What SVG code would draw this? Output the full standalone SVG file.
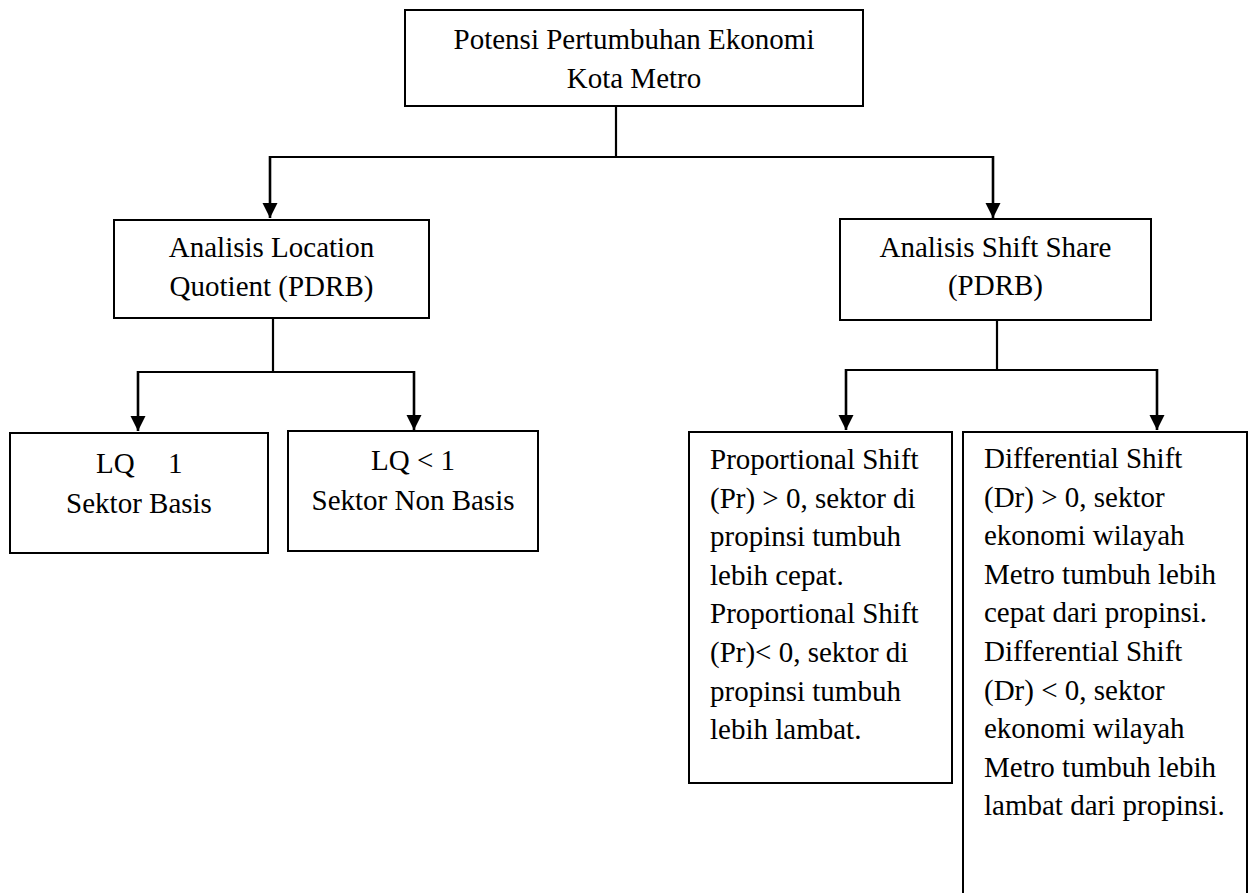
<svg xmlns="http://www.w3.org/2000/svg" width="1248" height="893" viewBox="0 0 1248 893">
<style>
.box{fill:#fff;stroke:#000;stroke-width:2}
.t{font-family:"Liberation Serif","Times New Roman",serif;font-size:29px;fill:#000}
.c{text-anchor:middle}
.ln{stroke:#000;stroke-width:2.2;fill:none}
.ar{stroke:#000;stroke-width:2.6;fill:none;marker-end:url(#ah)}
</style>
<defs>
<marker id="ah" markerUnits="userSpaceOnUse" markerWidth="16" markerHeight="16" refX="15" refY="7.5" orient="auto">
<path d="M0,0 L15,7.5 L0,15 Z" fill="#000"/>
</marker>
</defs>
<rect width="1248" height="893" fill="#fff"/>
<g id="connectors">
<line class="ln" x1="616" y1="106" x2="616" y2="157"/>
<line class="ln" x1="270" y1="157" x2="993" y2="157"/>
<line class="ar" x1="270" y1="156" x2="270" y2="218"/>
<line class="ar" x1="993" y1="156" x2="993" y2="218"/>
<line class="ln" x1="273" y1="318" x2="273" y2="372"/>
<line class="ln" x1="138" y1="372" x2="414" y2="372"/>
<line class="ar" x1="138" y1="371" x2="138" y2="431"/>
<line class="ar" x1="414" y1="371" x2="414" y2="430"/>
<line class="ln" x1="997" y1="320" x2="997" y2="370"/>
<line class="ln" x1="846" y1="370" x2="1157" y2="370"/>
<line class="ar" x1="846" y1="369" x2="846" y2="430"/>
<line class="ar" x1="1157" y1="369" x2="1157" y2="430"/>
</g>
<g id="n-top">
<rect class="box" x="405" y="10" width="458" height="96"/>
<text class="t c" x="634" y="49">Potensi Pertumbuhan Ekonomi</text>
<text class="t c" x="634" y="88">Kota Metro</text>
</g>
<g id="n-lq">
<rect class="box" x="114" y="220" width="315" height="98"/>
<text class="t c" x="271.5" y="257">Analisis Location</text>
<text class="t c" x="271.5" y="296">Quotient (PDRB)</text>
</g>
<g id="n-ss">
<rect class="box" x="840" y="219" width="311" height="101"/>
<text class="t c" x="995.5" y="257">Analisis Shift Share</text>
<text class="t c" x="995.5" y="295">(PDRB)</text>
</g>
<g id="n-basis">
<rect class="box" x="10" y="433" width="258" height="120"/>
<text class="t" x="96" y="473">LQ</text>
<text class="t" x="168" y="473">1</text>
<text class="t c" x="139" y="513">Sektor Basis</text>
</g>
<g id="n-nonbasis">
<rect class="box" x="288" y="431" width="250" height="120"/>
<text class="t c" x="413" y="470">LQ &lt; 1</text>
<text class="t c" x="413" y="510">Sektor Non Basis</text>
</g>
<g id="n-pr">
<rect class="box" x="689" y="432" width="263" height="351"/>
<text class="t" x="710" y="469">Proportional Shift<tspan x="710" dy="38.6">(Pr) &gt; 0, sektor di</tspan><tspan x="710" dy="38.6">propinsi tumbuh</tspan><tspan x="710" dy="38.6">lebih cepat.</tspan><tspan x="710" dy="38.6">Proportional Shift</tspan><tspan x="710" dy="38.6">(Pr)&lt; 0, sektor di</tspan><tspan x="710" dy="38.6">propinsi tumbuh</tspan><tspan x="710" dy="38.6">lebih lambat.</tspan></text>
</g>
<g id="n-dr">
<rect class="box" x="963" y="432" width="284" height="480"/>
<text class="t" x="984" y="468">Differential Shift<tspan x="984" dy="38.6">(Dr) &gt; 0, sektor</tspan><tspan x="984" dy="38.6">ekonomi wilayah</tspan><tspan x="984" dy="38.6">Metro tumbuh lebih</tspan><tspan x="984" dy="38.6">cepat dari propinsi.</tspan><tspan x="984" dy="38.6">Differential Shift</tspan><tspan x="984" dy="38.6">(Dr) &lt; 0, sektor</tspan><tspan x="984" dy="38.6">ekonomi wilayah</tspan><tspan x="984" dy="38.6">Metro tumbuh lebih</tspan><tspan x="984" dy="38.6">lambat dari propinsi.</tspan></text>
</g>
</svg>
